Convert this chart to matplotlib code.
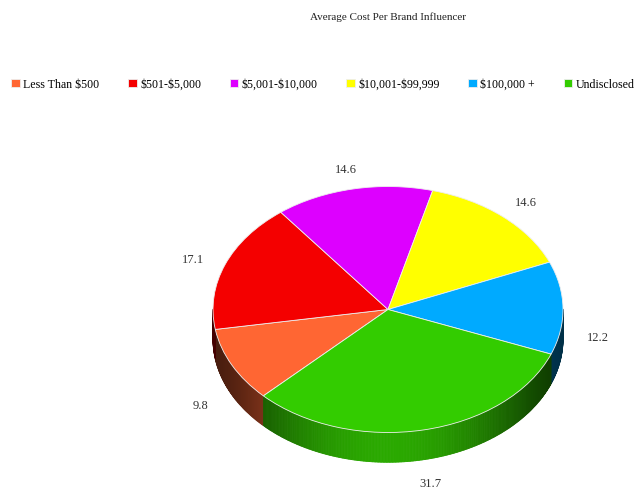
import numpy as np
import matplotlib
matplotlib.use("Agg")
import matplotlib.pyplot as plt
from matplotlib.collections import PolyCollection
from matplotlib.colors import to_rgb

plt.rcParams['font.family'] = ['Liberation Serif', 'DejaVu Serif']
plt.rcParams['text.parse_math'] = False

title = "Average Cost Per Brand Influencer"
categories = ["Less Than $500", "$501-$5,000", "$5,001-$10,000",
              "$10,001-$99,999", "$100,000 +", "Undisclosed"]
values = [9.8, 17.1, 14.6, 14.6, 12.2, 31.7]
colors = ["#ff6633", "#f40000", "#dd00ff", "#ffff00", "#00aaff", "#33cc00"]

start = 224.6      # degrees, slices go clockwise
depth = 0.242      # side height in y data units
cx, cy, rx, ry = 388, 310.5, 175, 123   # pie position in pixels
W, H = 636, 489

fig = plt.figure(figsize=(6.36, 4.89), dpi=100)
ax = fig.add_axes([0, 0, 1, 1])

wedges, _ = ax.pie(values, colors=colors, startangle=start, counterclock=False,
                   radius=1, center=(0, 0),
                   wedgeprops=dict(edgecolor="#eeeeee", linewidth=0.6, zorder=3))

# sides of the 3d pie
fracs = np.array(values) / sum(values)
ang = start - np.concatenate([[0], np.cumsum(fracs)]) * 360
polys, pcols = [], []
for i, c in enumerate(colors):
    hi, lo = ang[i], ang[i + 1]
    steps = np.linspace(lo, hi, int((hi - lo) / 0.5) + 2)
    base = np.array(to_rgb(c))
    for a, b in zip(steps[:-1], steps[1:]):
        m = np.radians((a + b) / 2)
        if np.sin(m) >= 0:
            continue
        ra, rb = np.radians(a), np.radians(b)
        polys.append([(np.cos(ra), np.sin(ra)), (np.cos(rb), np.sin(rb)),
                      (np.cos(rb), np.sin(rb) - depth), (np.cos(ra), np.sin(ra) - depth)])
        f = 0.28 + 0.55 * (-np.sin(m)) ** 3
        pcols.append(tuple(base * f))
side = PolyCollection(polys, facecolors=pcols, edgecolors=pcols, linewidths=0.6, zorder=1)
ax.add_collection(side)

# value labels
for i, v in enumerate(values):
    m = np.radians((ang[i] + ang[i + 1]) / 2)
    x, y = 1.2 * np.cos(m), 1.2 * np.sin(m) - 0.03
    if y < 0:
        y -= depth * 0.85
    ax.text(x, y, f"{v}", ha="center", va="center", fontsize=9, color="#333333")

ax.set_aspect("auto")
ax.set_xlim(-cx / rx, (W - cx) / rx)
ax.set_ylim((cy - H) / ry, cy / ry)
ax.axis("off")

fig.text(cx / W, 1 - 17 / H, title, ha="center", va="center", fontsize=8, color="#222222")

fig.legend(wedges, categories, loc="center", bbox_to_anchor=(323 / W, 1 - 85 / H),
           ncol=6, frameon=False, fontsize=8.6, handlelength=0.7, handleheight=0.7,
           handletextpad=0.3, columnspacing=2.4, borderpad=0)

fig.savefig("out.png", dpi=100)
